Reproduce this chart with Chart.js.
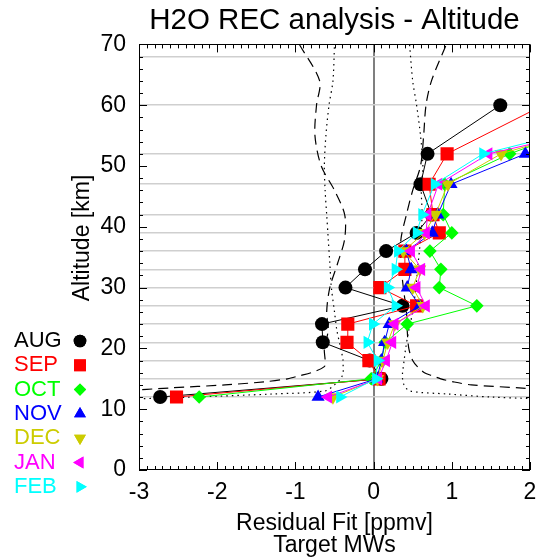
<!DOCTYPE html>
<html><head><meta charset="utf-8">
<script src="https://cdn.jsdelivr.net/npm/chart.js@4.4.1/dist/chart.umd.min.js"></script>
<style>html,body{margin:0;padding:0;background:#fff;overflow:hidden;}</style>
</head><body>
<canvas id="c" width="541" height="559"></canvas>
<script>
// ---- data ----
const altitudes = [12, 15, 18, 21, 24, 27, 30, 33, 36, 39, 42, 47, 52, 60];
const months = ['AUG', 'SEP', 'OCT', 'NOV', 'DEC', 'JAN', 'FEB'];
const AUG = [-2.73, 0.10, -0.05, -0.65, -0.66, 0.37, -0.36, -0.11, 0.16, 0.55, 0.74, 0.60, 0.69, 1.62];
const SEP = [-2.52, 0.07, -0.06, -0.34, -0.33, 0.55, 0.08, 0.40, 0.40, 0.84, 0.76, 0.71, 0.94, 2.17];
const OCT = [-2.23, -0.03, 0.10, 0.15, 0.43, 1.32, 0.84, 0.86, 0.72, 1.00, 0.89, 0.91, 1.74, 3.43];
const NOV = [-0.71, 0.04, 0.10, 0.14, 0.20, 0.59, 0.43, 0.48, 0.42, 0.75, 0.82, 0.99, 1.94, 3.56];
const DEC = [-0.52, 0.05, 0.12, 0.18, 0.27, 0.63, 0.50, 0.59, 0.38, 0.65, 0.79, 0.95, 1.63, 3.74];
const JAN = [-0.58, 0.06, 0.16, 0.24, 0.27, 0.67, 0.55, 0.61, 0.48, 0.67, 0.69, 0.83, 1.47, 4.20];
const FEB = [-0.43, 0.03, 0.05, -0.08, -0.01, 0.28, 0.18, 0.28, 0.31, 0.55, 0.62, 0.78, 1.40, 3.88];

// error envelopes (dashed / dotted)
const dashAlt   = [11.5, 12, 12.5, 13, 13.5, 14, 14.5, 15, 15.5, 16, 17, 18, 20, 23, 26, 30, 34, 38, 42, 46, 50, 55, 60, 64, 70];
const dashLeft  = [-5.0, -4.2, -3.6, -3.2, -2.6, -1.9, -1.4, -1.1, -0.95, -0.8, -0.63, -0.62, -0.63, -0.58, -0.60, -0.56, -0.46, -0.37, -0.37, -0.50, -0.67, -0.75, -0.73, -0.69, -0.95];
const dashRight = [4.6, 3.6, 2.8, 2.3, 1.86, 1.25, 1.02, 0.86, 0.75, 0.65, 0.56, 0.50, 0.45, 0.43, 0.42, 0.38, 0.35, 0.35, 0.42, 0.50, 0.60, 0.64, 0.67, 0.74, 0.93];
const dotAlt    = [11.5, 12, 12.5, 13, 14, 15, 16, 17, 18, 20, 23, 26, 30, 34, 38, 42, 46, 50, 55, 60, 64, 70];
const dotLeft   = [-3.5, -2.3, -1.3, -0.62, -0.50, -0.42, -0.39, -0.39, -0.39, -0.42, -0.47, -0.50, -0.54, -0.56, -0.58, -0.60, -0.62, -0.63, -0.61, -0.57, -0.52, -0.50];
const dotRight  = [2.6, 1.5, 0.95, 0.46, 0.39, 0.37, 0.37, 0.38, 0.39, 0.41, 0.45, 0.50, 0.54, 0.57, 0.60, 0.62, 0.61, 0.63, 0.60, 0.55, 0.50, 0.46];

const gridAltitudes = [12, 15, 18, 21, 24, 27, 30, 33, 36, 39, 42, 47, 52, 60, 68];
const xTickValues = [-3, -2, -1, 0, 1, 2];
const yTickValues = [0, 10, 20, 30, 40, 50, 60, 70];

// ---- styles ----
const FONT = 'Liberation Sans, Arial, Helvetica, sans-serif';
const seriesValues = [AUG, SEP, OCT, NOV, DEC, JAN, FEB];
const seriesColors = ['#000000', '#ff0000', '#00ff00', '#0000ff', '#cccc00', '#ff00ff', '#00ffff'];
const seriesStyles = [
  {pointStyle: 'circle', radius: 7, rot: 0},
  {pointStyle: 'rect', radius: 9.3, rot: 0},
  {pointStyle: 'rectRot', radius: 6.8, rot: 0},
  {pointStyle: 'triangle', radius: 7.6, rot: 0},
  {pointStyle: 'triangle', radius: 7.6, rot: 180},
  {pointStyle: 'triangle', radius: 7.6, rot: -90},
  {pointStyle: 'triangle', radius: 7.6, rot: 90}
];

function pts(xs, ys) { return xs.map((v, i) => ({x: v, y: ys[i]})); }

const datasets = [];
function envelope(xs, ys, dash, order) {
  datasets.push({data: pts(xs, ys), showLine: true, pointRadius: 0, borderColor: '#000',
    borderWidth: 1.2, borderDash: dash, tension: 0.3, order: order});
}
envelope(dashLeft, dashAlt, [10, 6], 20);
envelope(dashRight, dashAlt, [10, 6], 21);
envelope(dotLeft, dotAlt, [1.5, 4], 22);
envelope(dotRight, dotAlt, [1.5, 4], 23);

months.forEach((m, i) => {
  const st = seriesStyles[i];
  datasets.push({
    label: m, data: pts(seriesValues[i], altitudes), showLine: true,
    borderColor: seriesColors[i], backgroundColor: seriesColors[i], borderWidth: 1,
    pointStyle: st.pointStyle, pointRadius: st.radius, pointRotation: st.rot,
    pointBorderWidth: 0, pointBackgroundColor: seriesColors[i], pointBorderColor: seriesColors[i],
    order: 6 - i
  });
});

// frame + inward ticks on all four sides, rotated y title
const framePlugin = {
  id: 'frame',
  afterDraw(chart) {
    const {ctx, chartArea: a, scales: {x, y}} = chart;
    ctx.save();
    ctx.strokeStyle = '#000'; ctx.lineWidth = 1;
    ctx.beginPath();
    for (let k = 0; k <= 50; k++) {
      const v = -3 + k * 0.1;
      const px = Math.round(x.getPixelForValue(v)) + 0.5;
      const len = (k % 10 === 0) ? 8 : 4;
      ctx.moveTo(px, a.bottom); ctx.lineTo(px, a.bottom - len);
      ctx.moveTo(px, a.top); ctx.lineTo(px, a.top + len);
    }
    for (let k = 0; k <= 35; k++) {
      const v = k * 2;
      const py = Math.round(y.getPixelForValue(v)) + 0.5;
      const len = (k % 5 === 0) ? 8 : 4;
      ctx.moveTo(a.left, py); ctx.lineTo(a.left + len, py);
      ctx.moveTo(a.right, py); ctx.lineTo(a.right - len, py);
    }
    ctx.stroke();
    ctx.strokeRect(Math.round(a.left) + 0.5, Math.round(a.top) + 0.5, Math.round(a.width) - 1, Math.round(a.height) - 1);
    ctx.translate(83, 238);
    ctx.rotate(-Math.PI / 2);
    ctx.font = '23px ' + FONT;
    ctx.fillStyle = '#000'; ctx.textAlign = 'center'; ctx.textBaseline = 'middle';
    ctx.fillText('Altitude [km]', 0, 0);
    ctx.restore();
  }
};

// legend: colored month names with their symbols
const legendPlugin = {
  id: 'monthLegend',
  afterDraw(chart) {
    const ctx = chart.ctx;
    ctx.save();
    ctx.font = '22px ' + FONT;
    ctx.textBaseline = 'middle';
    ctx.textAlign = 'left';
    months.forEach((m, i) => {
      const yy = 341 + i * 24.3;
      ctx.fillStyle = seriesColors[i];
      ctx.fillText(m, 14, yy);
      const st = seriesStyles[i];
      Chart.helpers.drawPoint(ctx, {pointStyle: st.pointStyle, radius: st.radius * 0.9, rotation: st.rot, borderWidth: 0}, 80, yy);
      ctx.fill();
    });
    ctx.restore();
  }
};

new Chart(document.getElementById('c'), {
  type: 'scatter',
  data: {datasets},
  plugins: [framePlugin, legendPlugin],
  options: {
    responsive: false, animation: false, devicePixelRatio: 1, events: [],
    layout: {padding: {left: 0, right: 11, top: 0, bottom: 0}},
    plugins: {
      legend: {display: false}, tooltip: {enabled: false},
      title: {display: true, fullSize: false, text: 'H2O REC analysis - Altitude', color: '#000',
        font: {family: FONT, size: 29.5, weight: 'normal', lineHeight: 1.2}, padding: {top: 3, bottom: 6}}
    },
    scales: {
      x: {
        type: 'linear', position: 'bottom', min: -3, max: 2,
        afterBuildTicks: s => { s.ticks = xTickValues.map(v => ({value: v})); },
        ticks: {color: '#000', font: {family: FONT, size: 23, lineHeight: 2.0}, padding: 0, maxRotation: 0,
          callback: v => String(v)},
        grid: {drawTicks: false, lineWidth: 2,
          color: c => (c.tick && c.tick.value === 0) ? '#7f7f7f' : 'rgba(0,0,0,0)'},
        border: {display: false},
        title: {display: true, text: ['Residual Fit [ppmv]', 'Target MWs'], color: '#000',
          font: {family: FONT, size: 23, lineHeight: '22px'}, padding: {top: 0, bottom: 2}},
        afterFit: s => { s.height = 89; }
      },
      y: {
        type: 'linear', position: 'left', min: 0, max: 70,
        afterBuildTicks: s => { s.ticks = yTickValues.map(v => ({value: v})); },
        ticks: {color: '#000', font: {family: FONT, size: 23}, padding: 5},
        grid: {display: false},
        border: {display: false},
        title: {display: false},
        afterFit: s => { s.width = 139; }
      },
      yGrid: {
        type: 'linear', position: 'right', min: 0, max: 70, z: -1,
        afterBuildTicks: s => { s.ticks = gridAltitudes.map(v => ({value: v})); },
        ticks: {display: false},
        grid: {color: '#cfcfcf', lineWidth: 1.5, drawTicks: false},
        border: {display: false},
        afterFit: s => { s.width = 0; }
      }
    }
  }
});
</script>
</body></html>
